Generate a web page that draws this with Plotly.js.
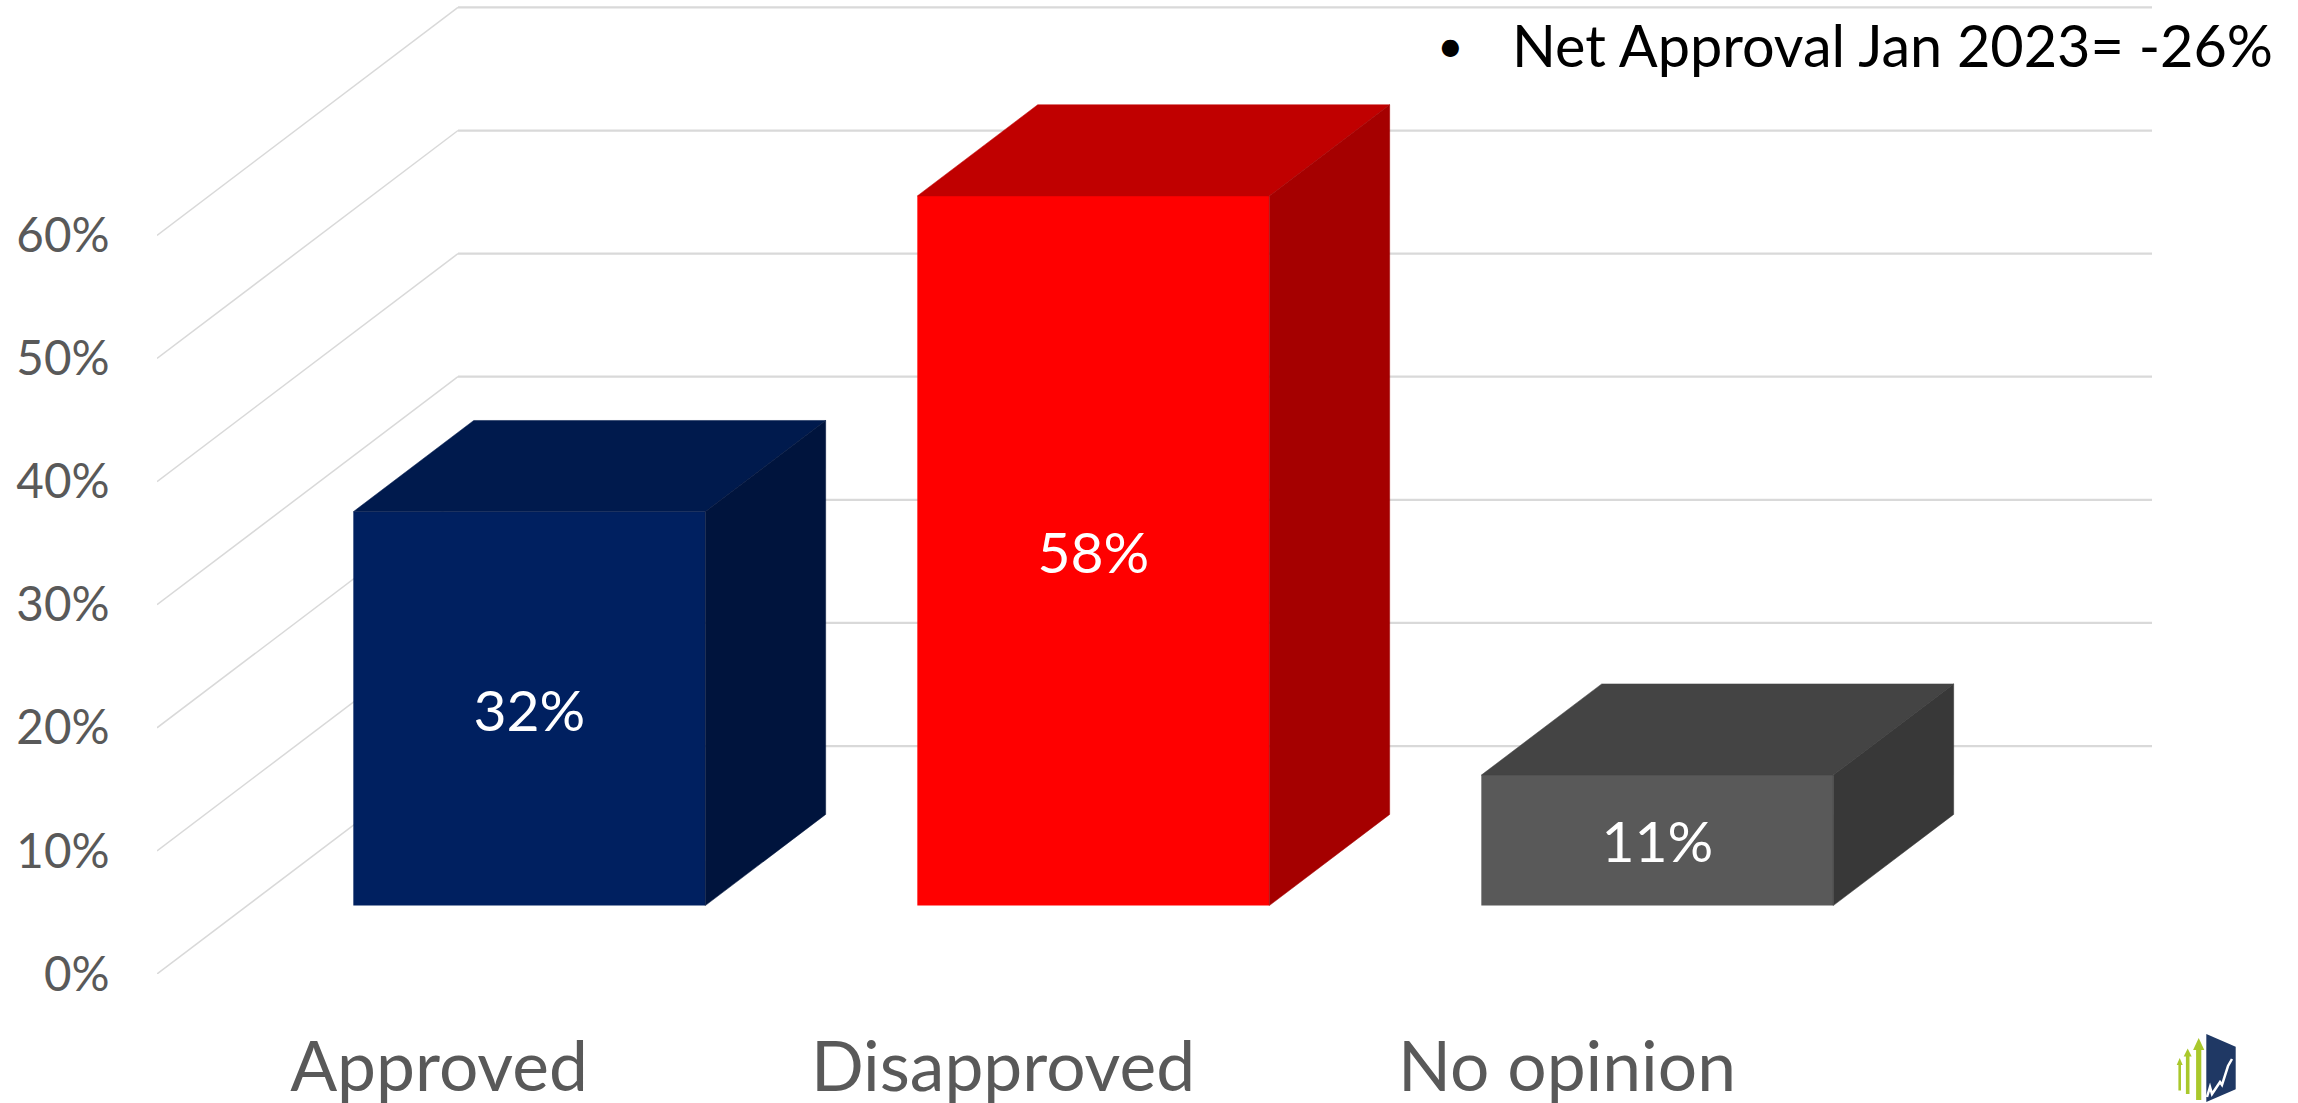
<!DOCTYPE html>
<html>
<head>
<meta charset="utf-8">
<script src="https://cdn.plot.ly/plotly-3.0.1.min.js"></script>
<style>html,body{margin:0;padding:0;background:#fff}#chart{width:2298px;height:1103px}</style>
</head>
<body>
<div id="chart"></div>
<script>
// ---- data ----
const categories = ['Approved', 'Disapproved', 'No opinion'];
const barValues = [32, 57.65, 10.6];
const barLabels = ['32%', '58%', '11%'];
const gridLevels = [0, 10, 20, 30, 40, 50, 60];
const gridLabels = ['0%', '10%', '20%', '30%', '40%', '50%', '60%'];
const noteText = 'Net Approval Jan 2023= -26%';

// ---- colours ----
const frontColors = ['#002060', '#FF0000', '#595959'];
const topColors = ['#001A4D', '#C00000', '#444444'];
const sideColors = ['#00143D', '#A50000', '#383838'];

// ---- oblique projection: how far the wall sits behind the front plane ----
const W = 2298, H = 1103, mL = 157, mR = 146, mB = 129, mT = 0;
const plotW = W - mL - mR, plotH = H - mT - mB;
const pxPerCat = 564, pxPerPct = 12.31;
const xRange = [-0.5, -0.5 + plotW / pxPerCat];
const yRange = [0, plotH / pxPerPct];
const depthX = 301 / pxPerCat, depthY = 228 / pxPerPct;
const barNear = 0.30, barFar = 0.70, barWidth = 0.624;
const project = (x, v, d) => [x + d * depthX, v + d * depthY];

function poly(points, color) {
  return {
    type: 'scatter', mode: 'lines', xaxis: 'x2', yaxis: 'y2',
    x: points.map(p => p[0]).concat(points[0][0]),
    y: points.map(p => p[1]).concat(points[0][1]),
    fill: 'toself', fillcolor: color, line: {width: 0.5, color: color},
    hoverinfo: 'skip', showlegend: false
  };
}

const traces = [];

// wall and floor grid
const diagX = [], diagY = [], backX = [], backY = [];
gridLevels.forEach(v => {
  const a = project(xRange[0], v, 0), b = project(xRange[0], v, 1), c = [xRange[1], b[1]];
  diagX.push(a[0], b[0], null); diagY.push(a[1], b[1], null);
  backX.push(b[0], c[0], null); backY.push(b[1], c[1], null);
});
traces.push({type: 'scatter', mode: 'lines', x: diagX, y: diagY,
  line: {color: '#D9D9D9', width: 1.5}, hoverinfo: 'skip', showlegend: false});
traces.push({type: 'scatter', mode: 'lines', x: backX, y: backY,
  line: {color: '#D9D9D9', width: 2.25}, hoverinfo: 'skip', showlegend: false});

// front faces
const front = categories.map((_, i) => project(i, 0, barNear));
traces.push({
  type: 'bar', xaxis: 'x2', yaxis: 'y2',
  x: front.map(p => p[0]), y: barValues, base: front.map(p => p[1]), width: barWidth,
  marker: {color: frontColors, line: {width: 0}},
  text: barLabels, textposition: 'inside', insidetextanchor: 'middle', textangle: 0,
  constraintext: 'none',
  textfont: {family: 'Lato, "Noto Sans", sans-serif', size: 57, color: '#FFFFFF'},
  hoverinfo: 'skip', showlegend: false
});

// top and right faces, derived from the values
categories.forEach((_, i) => {
  const l = i - barWidth / 2, r = i + barWidth / 2, v = barValues[i];
  traces.push(poly([project(l, v, barNear), project(r, v, barNear), project(r, v, barFar), project(l, v, barFar)], topColors[i]));
  traces.push(poly([project(r, 0, barNear), project(r, 0, barFar), project(r, v, barFar), project(r, v, barNear)], sideColors[i]));
});

// page pixels -> paper coordinates
const px = X => (X - mL) / plotW;
const py = Y => (mT + plotH - Y) / plotH;
const path = pts => pts.map((p, i) => (i ? 'L' : 'M') + px(p[0]) + ' ' + py(p[1])).join(' ');
const logoFill = (pts, color) => ({type: 'path', xref: 'paper', yref: 'paper', path: path(pts) + ' Z',
  fillcolor: color, line: {width: 0}, layer: 'above'});
const arrow = (cx, half, headHalf, tip, headBase, bottom) => logoFill([
  [cx, tip], [cx + headHalf, headBase], [cx + half, headBase], [cx + half, bottom],
  [cx - half, bottom], [cx - half, headBase], [cx - headHalf, headBase]], '#A9C82C');

const logoShapes = [
  arrow(2179.7, 1.3, 3.0, 1058, 1065, 1090.5),
  arrow(2187.7, 1.8, 4.0, 1048.5, 1056.5, 1094),
  arrow(2198.7, 2.6, 5.6, 1038, 1050, 1100),
  logoFill([[2206.3, 1034], [2235.7, 1046.7], [2235.7, 1089.3], [2206.3, 1102]], '#1F3864'),
  {type: 'path', xref: 'paper', yref: 'paper', layer: 'above',
   path: path([[2207, 1097], [2210, 1087], [2212, 1094], [2220, 1082], [2222, 1085], [2228, 1066], [2232, 1059]]),
   line: {color: '#FFFFFF', width: 2.5}}
];

const layout = {
  width: W, height: H,
  margin: {l: mL, r: mR, t: mT, b: mB, pad: 0},
  paper_bgcolor: '#FFFFFF', plot_bgcolor: '#FFFFFF',
  showlegend: false, barmode: 'overlay',
  xaxis: {
    range: xRange, tickmode: 'array', tickvals: categories.map((_, i) => i), ticktext: categories,
    showgrid: false, zeroline: false, showline: false,
    ticks: 'outside', ticklen: 33, tickcolor: 'rgba(0,0,0,0)',
    tickfont: {family: 'Lato, "Noto Sans", sans-serif', size: 69.5, color: '#595959'}, tickangle: 0
  },
  yaxis: {
    range: yRange, tickmode: 'array', tickvals: gridLevels, ticktext: gridLabels,
    showgrid: false, zeroline: false, showline: false,
    ticks: 'outside', ticklen: 37, tickcolor: 'rgba(0,0,0,0)',
    tickfont: {family: 'Lato, "Noto Sans", sans-serif', size: 47.5, color: '#595959'}
  },
  xaxis2: {overlaying: 'x', anchor: 'y2', range: xRange, visible: false},
  yaxis2: {overlaying: 'y', anchor: 'x2', range: yRange, visible: false},
  shapes: logoShapes,
  annotations: [
    {xref: 'paper', yref: 'paper', x: px(1450), y: py(45), xanchor: 'center', yanchor: 'middle',
     text: '•', showarrow: false, font: {family: 'Lato, sans-serif', size: 46, color: '#000000'}},
    {xref: 'paper', yref: 'paper', x: px(1510), y: py(45), xanchor: 'left', yanchor: 'middle',
     text: noteText, showarrow: false, font: {family: 'Lato, sans-serif', size: 57.6, color: '#000000'}}
  ]
};

Plotly.newPlot('chart', traces, layout, {displayModeBar: false, responsive: false});
</script>
</body>
</html>
